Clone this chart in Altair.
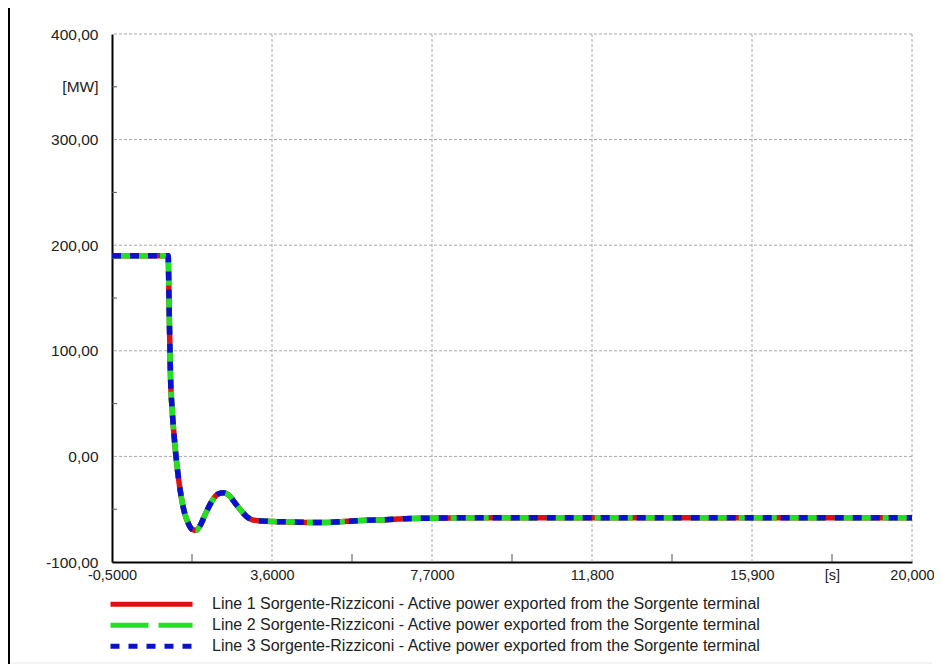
import altair as alt
import pandas as pd

# ---- data ----
series_names = [
    "Line 1 Sorgente-Rizziconi - Active power exported from the Sorgente terminal",
    "Line 2 Sorgente-Rizziconi - Active power exported from the Sorgente terminal",
    "Line 3 Sorgente-Rizziconi - Active power exported from the Sorgente terminal",
]
series_colors = ["#e01010", "#22e022", "#0a10d0"]
series_dashes = [[1, 0], [38, 10], [9, 9]]

time_s = [-0.5, 0.94, 0.96, 0.98, 1.0, 1.04, 1.09, 1.14, 1.22, 1.33, 1.45, 1.55,
          1.65, 1.75, 1.9, 2.05, 2.2, 2.35, 2.5, 2.65, 2.8, 2.95, 3.15, 3.5, 4.0,
          4.5, 5.0, 5.5, 6.0, 6.5, 7.0, 7.7, 9.0, 12.0, 16.0, 20.0]
power_mw = [190, 190, 150, 110, 75, 45, 20, 0, -25, -49, -63, -69,
            -70, -66, -54, -43, -36, -34.5, -37, -44, -51, -57, -60.5, -61.5, -62,
            -62.5, -62.5, -61.5, -60.5, -60, -59, -58.5, -58, -58, -58, -58]

y_grid = [0, 100, 200, 300, 400]
x_grid = [3.6, 7.7, 11.8, 15.9, 20.0]
y_minor = [-50, 50, 150, 250, 350]
x_minor = [1.55, 5.65, 9.75, 13.85, 17.95]

x_label_values = [-0.5, 3.6, 7.7, 11.8, 15.9, 17.95, 20.0]
x_label_texts = ["-0,5000", "3,6000", "7,7000", "11,800", "15,900", "[s]", "20,000"]
y_label_values = [-100, 0, 100, 200, 300, 350, 400]

rows = []
for name in series_names:
    for t, p in zip(time_s, power_mw):
        rows.append({"t": t, "p": p, "series": name})
df = pd.DataFrame(rows)

x_expr = "''"
for v, s in zip(reversed(x_label_values), reversed(x_label_texts)):
    x_expr = f"abs(datum.value - ({v})) < 0.01 ? '{s}' : ({x_expr})"
y_expr = ("datum.value == 350 ? '[MW]' : (datum.value % 100 == 0 ? "
          "(datum.value < 0 ? '-' : '') + replace(format(abs(datum.value), '.2f'), '.', ',') : '')")

FONT = "Liberation Sans"
xscale = alt.Scale(domain=[-0.5, 20.0], nice=False, zero=False)
yscale = alt.Scale(domain=[-100, 400], nice=False, zero=False)

legend = alt.Legend(
    title=None, orient="none", legendX=-4, legendY=560,
    symbolType="stroke", symbolSize=6724, symbolStrokeWidth=5,
    clipHeight=20.5, rowPadding=0, padding=0, labelOffset=17,
    labelFont=FONT, labelFontSize=16, labelColor="#222222", labelLimit=800,
)

lines = alt.Chart(df).mark_line(strokeWidth=5.5, interpolate="monotone").encode(
    x=alt.X("t:Q", scale=xscale, axis=alt.Axis(
        values=x_label_values, labelExpr=x_expr, title=None, grid=False, ticks=False,
        domainColor="black", domainWidth=2, labelFont=FONT, labelFontSize=14.5,
        labelColor="#222222", labelPadding=6, labelFlush=False)),
    y=alt.Y("p:Q", scale=yscale, axis=alt.Axis(
        values=y_label_values, labelExpr=y_expr, title=None, grid=False, ticks=False,
        domainColor="black", domainWidth=2, labelFont=FONT, labelFontSize=15.5,
        labelColor="#222222", labelPadding=14)),
    color=alt.Color("series:N", scale=alt.Scale(domain=series_names, range=series_colors),
                    legend=legend),
    strokeDash=alt.StrokeDash("series:N", scale=alt.Scale(domain=series_names, range=series_dashes),
                              legend=legend),
)

ygrid = alt.Chart(pd.DataFrame({"v": y_grid})).mark_rule(
    color="#a8a8a8", strokeWidth=1, strokeDash=[3, 2]).encode(
    y=alt.Y("v:Q", scale=yscale))
xgrid = alt.Chart(pd.DataFrame({"v": x_grid})).mark_rule(
    color="#a8a8a8", strokeWidth=1, strokeDash=[3, 2]).encode(
    x=alt.X("v:Q", scale=xscale))
yticks = alt.Chart(pd.DataFrame({"v": y_minor})).mark_rule(color="#555555", strokeWidth=1).encode(
    y=alt.Y("v:Q", scale=yscale), x=alt.value(0), x2=alt.value(5))
xticks = alt.Chart(pd.DataFrame({"v": x_minor})).mark_rule(color="#555555", strokeWidth=1).encode(
    x=alt.X("v:Q", scale=xscale), y=alt.value(528), y2=alt.value(520))
frame = alt.Chart(pd.DataFrame({"v": [0]})).mark_rule(color="black", strokeWidth=2, clip=False).encode(
    x=alt.value(-103), y=alt.value(-30), y2=alt.value(630))
bottom = alt.Chart(pd.DataFrame({"v": [0]})).mark_rule(color="#e8e8e8", strokeWidth=1, clip=False).encode(
    x=alt.value(-103), x2=alt.value(820), y=alt.value(629))

chart = alt.layer(ygrid, xgrid, yticks, xticks, bottom, frame, lines).properties(
    width=800, height=528,
    autosize=alt.AutoSizeParams(type="none"),
    padding={"left": 104, "top": 26, "right": 22, "bottom": 102},
    background="white",
).configure_view(stroke=None)

chart.save("out.html", embed_options={"renderer": "svg", "actions": False})
